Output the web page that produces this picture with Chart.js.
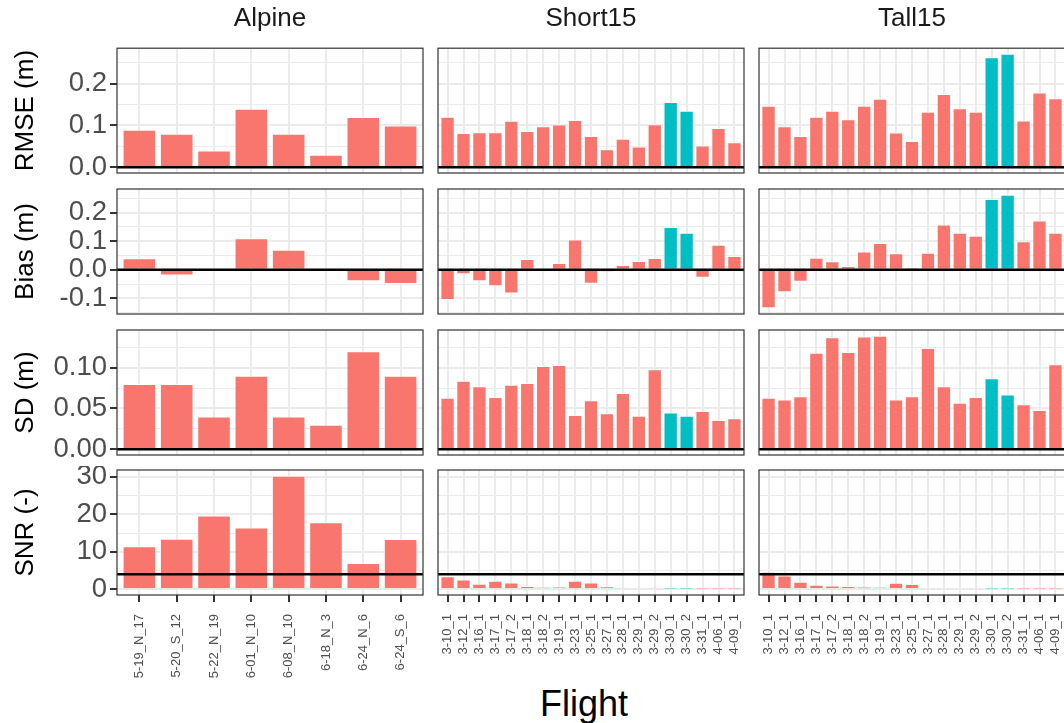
<!DOCTYPE html>
<html>
<head>
<meta charset="utf-8">
<script src="https://cdn.jsdelivr.net/npm/chart.js@4/dist/chart.umd.min.js"></script>
<style>
  html, body { margin: 0; padding: 0; background: #fff; }
  #wrap { position: relative; width: 1064px; height: 723px; overflow: hidden; background: #fff;
          font-family: "Liberation Sans", Arial, sans-serif; }
  #wrap canvas { position: absolute; }
  #xtitle { position: absolute; left: 584px; top: 686px; transform: translateX(-50%);
            font-size: 36px; line-height: 1; color: #000; white-space: nowrap; }
</style>
</head>
<body>
<div id="wrap"><div id="xtitle">Flight</div></div>
<script>
// flights per site
var alpineFlights = ['5-19_N_17', '5-20_S_12', '5-22_N_19', '6-01_N_10', '6-08_N_10', '6-18_N_3', '6-24_N_6', '6-24_S_6'];
var flights15 = ['3-10_1', '3-12_1', '3-16_1', '3-17_1', '3-17_2', '3-18_1', '3-18_2', '3-19_1', '3-23_1', '3-25_1',
                 '3-27_1', '3-28_1', '3-29_1', '3-29_2', '3-30_1', '3-30_2', '3-31_1', '4-06_1', '4-09_1'];
var highlightFlights = ['3-30_1', '3-30_2'];

var alpineRmse = [0.09, 0.08, 0.04, 0.14, 0.08, 0.03, 0.12, 0.10];
var alpineBias = [0.04, -0.02, 0.0, 0.11, 0.07, 0.0, -0.04, -0.05];
var alpineSd   = [0.08, 0.08, 0.04, 0.09, 0.04, 0.03, 0.12, 0.09];
var alpineSnr  = [11.5, 13.5, 19.7, 16.5, 30.3, 17.9, 7.0, 13.4];

var shortRmse = [0.121, 0.082, 0.084, 0.084, 0.111, 0.087, 0.098, 0.102, 0.113, 0.075, 0.043, 0.068, 0.050, 0.103, 0.156, 0.135, 0.052, 0.094, 0.060];
var shortBias = [-0.106, -0.016, -0.040, -0.058, -0.083, 0.038, 0.0, 0.024, 0.106, -0.049, -0.007, 0.017, 0.031, 0.041, 0.150, 0.130, -0.028, 0.088, 0.048];
var shortSd   = [0.063, 0.084, 0.077, 0.064, 0.079, 0.081, 0.102, 0.103, 0.042, 0.060, 0.044, 0.069, 0.041, 0.098, 0.045, 0.041, 0.047, 0.036, 0.038];
var shortSnr  = [3.5, 2.6, 1.5, 2.3, 1.8, 0.9, 0.6, 0.7, 2.3, 1.8, 0.8, 0.5, 0.35, 0.2, 0.05, 0.05, 0.05, 0.05, 0.05];

var tallRmse = [0.147, 0.098, 0.075, 0.121, 0.135, 0.115, 0.147, 0.164, 0.083, 0.063, 0.133, 0.175, 0.141, 0.133, 0.263, 0.271, 0.112, 0.179, 0.165];
var tallBias = [-0.135, -0.079, -0.042, 0.042, 0.030, 0.013, 0.064, 0.094, 0.058, 0.008, 0.060, 0.159, 0.130, 0.119, 0.248, 0.263, 0.100, 0.173, 0.130];
var tallSd   = [0.063, 0.061, 0.065, 0.118, 0.137, 0.119, 0.138, 0.139, 0.061, 0.065, 0.124, 0.077, 0.057, 0.064, 0.087, 0.067, 0.055, 0.048, 0.104];
var tallSnr  = [4.7, 3.7, 2.0, 1.2, 1.0, 0.9, 0.7, 0.6, 1.75, 1.4, 0.5, 0.4, 0.25, 0.2, 0.05, 0.05, 0.05, 0.05, 0.05];

var facetNames = ['Alpine', 'Short15', 'Tall15'];
var rowTitles = ['RMSE (m)', 'Bias (m)', 'SD (m)', 'SNR (-)'];
var rowBreaks = [[0, 0.1, 0.2], [-0.1, 0, 0.1, 0.2], [0, 0.05, 0.1], [0, 10, 20, 30]];
var rowBreakLabels = [['0.0', '0.1', '0.2'], ['-0.1', '0.0', '0.1', '0.2'], ['0.00', '0.05', '0.10'], ['0', '10', '20', '30']];
var rowMinor = [[0.05, 0.15, 0.25], [-0.15, -0.05, 0.05, 0.15, 0.25], [0.025, 0.075, 0.125], [5, 15, 25]];
var refLines = [0, 0, 0, 4];

var facetLabels = [alpineFlights, flights15, flights15];
var rowValues = [
	[alpineRmse, shortRmse, tallRmse],
	[alpineBias, shortBias, tallBias],
	[alpineSd, shortSd, tallSd],
	[alpineSnr, shortSnr, tallSnr]
];

// panel geometry
var panelLeft = [117, 438, 759];
var panelWidth = 306;
var panelTop = [48, 189, 330, 470];
var panelHeight = 125;
var bottomEdge = 690;
var m = 4;

Chart.defaults.font.family = '"Liberation Sans", Arial, sans-serif';

var panelDecor = {
	id: 'panelDecor',
	afterDatasetsDraw: function(chart, args, opts) {
		var a = chart.chartArea, ctx = chart.ctx;
		var y = chart.scales.y.getPixelForValue(opts.ref);
		ctx.save();
		ctx.strokeStyle = '#000';
		ctx.lineWidth = 2.5;
		ctx.beginPath();
		ctx.moveTo(a.left, y);
		ctx.lineTo(a.right, y);
		ctx.stroke();
		ctx.strokeStyle = '#333333';
		ctx.lineWidth = 1.2;
		ctx.strokeRect(a.left, a.top, a.right - a.left, a.bottom - a.top);
		ctx.restore();
	}
};

function rowRange(r) {
	var lo = Math.min(0, refLines[r]), hi = Math.max(0, refLines[r]);
	for (var c = 0; c < 3; c++) {
		lo = Math.min(lo, Math.min.apply(null, rowValues[r][c]));
		hi = Math.max(hi, Math.max.apply(null, rowValues[r][c]));
	}
	var pad = (hi - lo) * 0.05;
	return [lo - pad, hi + pad];
}

function makePanel(r, c) {
	var labels = facetLabels[c];
	var vals = rowValues[r][c];
	var range = rowRange(r);
	var cx = c == 0 ? 0 : panelLeft[c] - m;
	var cy = r == 0 ? 0 : panelTop[r] - m;
	var cw = panelLeft[c] + panelWidth + m - cx;
	var ch = (r == 3 ? bottomEdge : panelTop[r] + panelHeight + m) - cy;

	var cv = document.createElement('canvas');
	cv.width = cw;
	cv.height = ch;
	cv.style.left = cx + 'px';
	cv.style.top = cy + 'px';
	document.getElementById('wrap').appendChild(cv);

	var pts = [];
	var colors = [];
	for (var i = 0; i < vals.length; i++) {
		pts.push({x: i + 1, y: vals[i]});
		colors.push(highlightFlights.indexOf(labels[i]) >= 0 ? '#00BFC4' : '#F8766D');
	}

	var yTicks = [];
	rowBreaks[r].forEach(function(v, k) { yTicks.push({value: v, txt: rowBreakLabels[r][k], minor: false}); });
	rowMinor[r].forEach(function(v) {
		if (v > range[0] && v < range[1]) yTicks.push({value: v, txt: '', minor: true});
	});
	yTicks.sort(function(a, b) { return a.value - b.value; });

	new Chart(cv.getContext('2d'), {
		type: 'bar',
		data: {
			datasets: [{
				data: pts,
				backgroundColor: colors,
				borderColor: 'rgba(255,255,255,0.55)',
				borderWidth: 1,
				barPercentage: 0.9,
				categoryPercentage: 1
			}]
		},
		plugins: [panelDecor],
		options: {
			responsive: false,
			animation: false,
			devicePixelRatio: 1,
			events: [],
			layout: {
				padding: {
					left: c == 0 ? 0 : m,
					right: m,
					top: r == 0 ? 0 : m,
					bottom: r == 3 ? 0 : m
				}
			},
			plugins: {
				legend: {display: false},
				tooltip: {enabled: false},
				title: {
					display: r == 0,
					text: facetNames[c],
					fullSize: false,
					color: '#1A1A1A',
					font: {size: 26, weight: 'normal'},
					padding: {top: 3, bottom: 14}
				},
				panelDecor: {ref: refLines[r]}
			},
			scales: {
				x: {
					type: 'linear',
					min: 0.4,
					max: labels.length + 0.6,
					bounds: 'data',
					offset: false,
					afterBuildTicks: function(s) {
						s.ticks = labels.map(function(l, i) { return {value: i + 1}; });
					},
					afterFit: function(s) {
						s.height = r == 3 ? bottomEdge - panelTop[3] - panelHeight : 0;
						s.paddingLeft = 0;
						s.paddingRight = 0;
					},
					border: {display: false},
					grid: {
						offset: false,
						color: '#EBEBEB',
						lineWidth: 2,
						drawTicks: r == 3,
						tickLength: 7,
						tickWidth: 2,
						tickColor: '#333333'
					},
					ticks: {
						display: r == 3,
						autoSkip: false,
						minRotation: 90,
						maxRotation: 90,
						padding: 12,
						color: '#4D4D4D',
						font: {size: 13},
						callback: function(v) { return labels[Math.round(v) - 1]; }
					}
				},
				y: {
					min: range[0],
					max: range[1],
					bounds: 'data',
					afterBuildTicks: function(s) {
						s.ticks = yTicks.map(function(t) { return {value: t.value, minor: t.minor, txt: t.txt}; });
					},
					afterFit: function(s) {
						s.width = c == 0 ? panelLeft[0] : 0;
						s.paddingTop = 0;
						s.paddingBottom = 0;
					},
					border: {display: false},
					grid: {
						color: '#EBEBEB',
						lineWidth: function(ctx) { return ctx.tick && ctx.tick.minor ? 1 : 2; },
						drawTicks: c == 0,
						tickLength: 7,
						tickWidth: 2,
						tickColor: function(ctx) { return ctx.tick && ctx.tick.minor ? 'rgba(0,0,0,0)' : '#333333'; }
					},
					ticks: {
						display: c == 0,
						autoSkip: false,
						padding: 3,
						color: '#4D4D4D',
						font: {size: 27.5},
						callback: function(v, i, t) { return t[i].txt; }
					},
					title: {
						display: c == 0,
						text: rowTitles[r],
						color: '#000',
						font: {size: 26},
						padding: {top: 10, bottom: 0}
					}
				}
			}
		}
	});
}

for (var r = 0; r < 4; r++) {
	for (var c = 0; c < 3; c++) {
		makePanel(r, c);
	}
}
</script>
</body>
</html>
